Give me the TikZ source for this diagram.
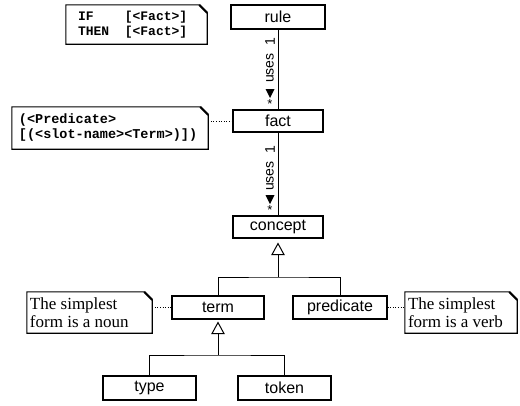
\documentclass[tikz,border=0pt]{standalone}
\usepackage{fontspec}
\setmainfont{Liberation Sans}
\newfontfamily\serifnote{Liberation Serif}
\newfontfamily\mononote{Liberation Mono}
\newcommand\dogear[1]{%
  \draw[noteline] (#1.north west) -- ([xshift=-8pt]#1.north east) -- ([yshift=-8pt]#1.north east) -- (#1.south east) -- (#1.south west) -- cycle;
  \draw[line width=2.2pt] ([xshift=-8pt]#1.north east) -- ([yshift=-8pt]#1.north east);}
\begin{document}
\begin{tikzpicture}[x=1pt,y=-1pt,
  cls/.style={draw, line width=1.1pt, inner sep=0pt, minimum height=23pt, font=\fontsize{16}{16}\selectfont},
  noteline/.style={line width=1.1pt},
  assoc/.style={line width=1pt},
  lab/.style={rotate=90, inner sep=0pt, font=\fontsize{14}{14}\selectfont},
  mult/.style={inner sep=0pt, font=\fontsize{13}{13}\selectfont},
  dots/.style={dotted, line width=0.6pt},
  gen/.style={line width=1pt}]
\useasboundingbox (0,0) rectangle (520,405);

% classes
\node[cls, minimum width=94pt, minimum height=24pt] (rule) at (278,17) {rule};
\node[cls, minimum width=90pt, minimum height=22pt] (fact) at (278,121) {fact};
\node[cls, minimum width=90pt, minimum height=22pt] (concept) at (278,227) {concept};
\node[cls, minimum width=92pt] (term) at (218,307.5) {term};
\node[cls, minimum width=94pt] (predicate) at (340,307.5) {predicate};
\node[cls, minimum width=93pt, minimum height=24pt] (type) at (149.5,388) {type};
\node[cls, minimum width=93pt, minimum height=24pt] (token) at (284.5,388) {token};

% notes
\node[minimum width=141pt, minimum height=39pt, inner sep=0pt] (ifnote) at (136.5,24.5) {};
\dogear{ifnote}
\node[anchor=west, inner sep=0pt, align=left, font=\mononote\bfseries\fontsize{13}{15}\selectfont] (iftext) at ([xshift=12pt]ifnote.west)
  {IF\phantom{EN}\ \ [<Fact>]\\THEN\ \ [<Fact>]};

\node[minimum width=196pt, minimum height=42pt, inner sep=0pt] (factnote) at (110,128) {};
\dogear{factnote}
\node[anchor=west, inner sep=0pt, align=left, font=\mononote\bfseries\fontsize{13.5}{15}\selectfont] (facttext) at ([xshift=7pt]factnote.west)
  {(<Predicate>\\{}[(<slot-name><Term>)])};

\node[minimum width=125pt, minimum height=41pt, inner sep=0pt] (nounnote) at (89.5,312.5) {};
\dogear{nounnote}
\node[anchor=west, inner sep=0pt, align=left, font=\serifnote\fontsize{17}{18}\selectfont] (nountext) at ([xshift=3pt]nounnote.west)
  {The simplest\\form is a noun};

\node[minimum width=112pt, minimum height=41pt, inner sep=0pt] (verbnote) at (461,312.5) {};
\dogear{verbnote}
\node[anchor=west, inner sep=0pt, align=left, font=\serifnote\fontsize{17}{18}\selectfont] (verbtext) at ([xshift=3pt]verbnote.west)
  {The simplest\\form is a verb};

% note attachments
\draw[dots] (factnote.east |- fact.west) -- (fact.west);
\draw[dots] (nounnote.east |- term.west) -- (term.west);
\draw[dots] (predicate.east) -- (verbnote.west |- predicate.east);

% associations
\draw[assoc] (rule.south) -- (fact.north);
\node[lab] (m1a) at (270,42) {1};
\node[lab] (u1) at (270,68) {uses};
\fill (265.5,89) -- (274.5,89) -- (270,98) -- cycle;
\node[mult] (s1) at (270,104) {*};

\draw[assoc] (fact.south) -- (concept.north);
\node[lab] (m2a) at (270,150) {1};
\node[lab] (u2) at (270,176) {uses};
\fill (265.5,195) -- (274.5,195) -- (270,204) -- cycle;
\node[mult] (s2) at (270,210) {*};

% generalization concept
\coordinate (g1) at (278,277);
\draw[gen] (concept.south) ++(0,5) coordinate (t1tip) -- ++(-6,11) -- ++(12,0) -- cycle;
\draw[gen] ([yshift=-16pt]concept.south) -- (g1);
\draw[gen] (term.north) |- (g1) -| (predicate.north);

% generalization term
\coordinate (g2) at (218,355);
\draw[gen] (term.south) ++(0,3) -- ++(-6,11) -- ++(12,0) -- cycle;
\draw[gen] ([yshift=-14pt]term.south) -- (g2);
\draw[gen] (type.north) |- (g2) -| (token.north);
\end{tikzpicture}
\end{document}
